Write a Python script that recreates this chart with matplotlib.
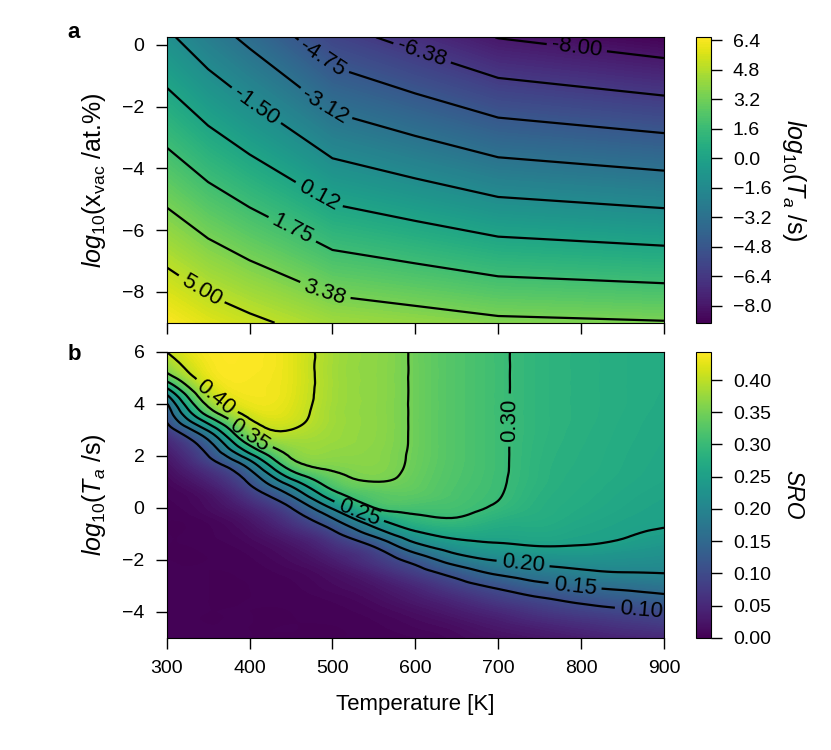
import numpy as np
import matplotlib.pyplot as plt
from matplotlib import cm, colors
from matplotlib.tri import Triangulation, UniformTriRefiner, CubicTriInterpolator

plt.rcParams['font.family'] = ['Liberation Sans', 'DejaVu Sans']
plt.rcParams['mathtext.fontset'] = 'custom'
plt.rcParams['mathtext.rm'] = 'Liberation Sans'
plt.rcParams['mathtext.it'] = 'Liberation Sans:italic'
plt.rcParams['mathtext.bf'] = 'Liberation Sans:bold'

# panel a: log10(Ta/s) on (T, log10 x_vac)
temps_a = [300, 350, 400, 500, 600, 700, 800, 900]
log_xvac = [-9.0, 0.25]
log_ta = [
    [6.50, 5.80, 5.29, 4.33, 4.02, 3.65, 3.56, 3.46],          # log x_vac = -9
    [-1.24, -2.42, -3.47, -5.79, -6.90, -8.04, -8.46, -8.90],  # log x_vac = 0.25
]
levels_a = [-8.0, -6.375, -4.75, -3.125, -1.5, 0.125, 1.75, 3.375, 5.0]
ticks_a = [-8.0, -6.4, -4.8, -3.2, -1.6, 0.0, 1.6, 3.2, 4.8, 6.4]
labels_a = [(795, -0.05), (608, -0.27), (485, -0.54), (489, -2.05), (407, -2.0),
            (485, -4.81), (451, -6.0), (491, -8.0), (340, -8.0)]

# panel b: SRO on (T, log10 Ta); one profile per temperature, log Ta = -5 ... 6 step 0.5
temps_b = [300, 350, 400, 450, 500, 550, 600, 650, 700, 750, 800, 850, 900]
log_ta_b = [-5.0, -4.5, -4.0, -3.5, -3.0, -2.5, -2.0, -1.5, -1.0, -0.5, 0.0, 0.5,
            1.0, 1.5, 2.0, 2.5, 3.0, 3.5, 4.0, 4.5, 5.0, 5.5, 6.0]
sro_profiles = [
    [0, 0, 0, 0, 0, 0, 0, 0, 0, 0, 0.002, 0.004, 0.008, 0.016, 0.028, 0.046, 0.078, 0.113, 0.147, 0.229, 0.325, 0.373, 0.401],
    [0, 0, 0, 0, 0, 0, 0, 0.001, 0.003, 0.005, 0.013, 0.02, 0.039, 0.064, 0.10, 0.138, 0.208, 0.298, 0.362, 0.40, 0.425, 0.435, 0.44],
    [0, 0, 0, 0, 0, 0.001, 0.003, 0.007, 0.014, 0.024, 0.043, 0.071, 0.107, 0.153, 0.232, 0.316, 0.369, 0.405, 0.43, 0.437, 0.44, 0.442, 0.443],
    [0, 0, 0, 0.001, 0.003, 0.006, 0.013, 0.022, 0.041, 0.067, 0.10, 0.155, 0.23, 0.31, 0.355, 0.377, 0.40, 0.415, 0.421, 0.424, 0.425, 0.425, 0.425],
    [0, 0, 0.002, 0.005, 0.011, 0.018, 0.034, 0.055, 0.087, 0.138, 0.207, 0.28, 0.326, 0.354, 0.368, 0.375, 0.379, 0.381, 0.382, 0.383, 0.383, 0.383, 0.383],
    [0.001, 0.003, 0.007, 0.014, 0.024, 0.043, 0.069, 0.10, 0.166, 0.233, 0.30, 0.325, 0.35, 0.362, 0.365, 0.367, 0.368, 0.368, 0.368, 0.368, 0.368, 0.368, 0.368],
    [0.004, 0.009, 0.017, 0.031, 0.049, 0.079, 0.119, 0.181, 0.239, 0.286, 0.312, 0.33, 0.338, 0.342, 0.344, 0.345, 0.345, 0.345, 0.345, 0.345, 0.345, 0.345, 0.345],
    [0.01, 0.017, 0.032, 0.052, 0.081, 0.12, 0.176, 0.226, 0.265, 0.295, 0.31, 0.316, 0.319, 0.321, 0.322, 0.322, 0.322, 0.322, 0.322, 0.322, 0.322, 0.322, 0.322],
    [0.017, 0.03, 0.049, 0.077, 0.11, 0.159, 0.204, 0.242, 0.263, 0.279, 0.295, 0.302, 0.304, 0.305, 0.305, 0.305, 0.305, 0.305, 0.305, 0.305, 0.305, 0.305, 0.305],
    [0.025, 0.043, 0.068, 0.096, 0.137, 0.179, 0.216, 0.249, 0.265, 0.274, 0.279, 0.282, 0.285, 0.286, 0.287, 0.288, 0.289, 0.289, 0.289, 0.289, 0.289, 0.289, 0.289],
    [0.035, 0.055, 0.082, 0.113, 0.154, 0.192, 0.222, 0.248, 0.259, 0.265, 0.27, 0.273, 0.275, 0.277, 0.278, 0.279, 0.28, 0.281, 0.281, 0.281, 0.281, 0.281, 0.281],
    [0.043, 0.066, 0.092, 0.126, 0.163, 0.199, 0.22, 0.241, 0.253, 0.258, 0.262, 0.265, 0.268, 0.27, 0.271, 0.272, 0.273, 0.274, 0.275, 0.275, 0.275, 0.275, 0.275],
    [0.05, 0.075, 0.10, 0.137, 0.171, 0.201, 0.216, 0.231, 0.246, 0.253, 0.256, 0.259, 0.262, 0.264, 0.265, 0.266, 0.267, 0.268, 0.269, 0.27, 0.27, 0.27, 0.27],
]
levels_b = [0.10, 0.15, 0.20, 0.25, 0.30, 0.35, 0.40]
ticks_b = [0.0, 0.05, 0.10, 0.15, 0.20, 0.25, 0.30, 0.35, 0.40]
labels_b = [(360, 4.27), (398, 2.73), (714, 3.37), (531, -0.24), (730, -2.14), (793, -2.91), (873, -3.87)]

fig = plt.figure(figsize=(8.31, 7.5), dpi=100)
ax1 = fig.add_axes([0.2006, 0.5697, 0.5984, 0.3806])
cax1 = fig.add_axes([0.8372, 0.5697, 0.018, 0.3806])
ax2 = fig.add_axes([0.2006, 0.1497, 0.5984, 0.3814])
cax2 = fig.add_axes([0.8372, 0.1497, 0.018, 0.3814])

# panel a
cf1 = ax1.contourf(temps_a, log_xvac, log_ta, levels=np.linspace(-8.92, 6.55, 121), cmap='viridis')
cs1 = ax1.contour(temps_a, log_xvac, log_ta, levels=levels_a, colors='k',
                  linewidths=1.6, linestyles='solid')
ax1.clabel(cs1, fmt='%.2f', fontsize=16, manual=labels_a)
ax1.set_xlim(300, 900)
ax1.set_ylim(-9, 0.25)
ax1.set_xticks([300, 400, 500, 600, 700, 800, 900])
ax1.set_xticklabels([])
ax1.set_yticks([0, -2, -4, -6, -8])
ax1.set_ylabel(r'$log_{10}$(x$_{\mathrm{vac}}$ /at.%)', fontsize=18, labelpad=10)
cb1 = fig.colorbar(cf1, cax=cax1, ticks=ticks_a)
cb1.set_label(r'$log_{10}(T_a$ /s)', rotation=270, fontsize=18, labelpad=26)

# panel b: grid in index units, smoothed by matplotlib's cubic tri refiner
sro = np.array(sro_profiles).T
gu, gv = np.meshgrid(np.arange(len(temps_b)), np.arange(len(log_ta_b)))
tri_idx = Triangulation(gu.ravel(), gv.ravel())
interp = CubicTriInterpolator(tri_idx, sro.ravel(), kind='min_E')
tri_fine, sro_fine = UniformTriRefiner(tri_idx).refine_field(sro.ravel(), triinterpolator=interp, subdiv=3)
t_fine = np.interp(tri_fine.x, np.arange(len(temps_b)), temps_b)
y_fine = np.interp(tri_fine.y, np.arange(len(log_ta_b)), log_ta_b)
tri_b = Triangulation(t_fine, y_fine, tri_fine.triangles)

ax2.tricontourf(tri_b, sro_fine, levels=np.linspace(0, 0.444, 111), cmap='viridis', extend='both')
cs2 = ax2.tricontour(tri_b, sro_fine, levels=levels_b, colors='k', linewidths=1.6)
ax2.clabel(cs2, fmt='%.2f', fontsize=16, manual=labels_b)
ax2.set_xlim(300, 900)
ax2.set_ylim(-5, 6)
ax2.set_xticks([300, 400, 500, 600, 700, 800, 900])
ax2.set_yticks([6, 4, 2, 0, -2, -4])
ax2.set_xlabel('Temperature [K]', fontsize=16, labelpad=12)
ax2.set_ylabel(r'$log_{10}(T_a$ /s)', fontsize=18, labelpad=10)
sm = cm.ScalarMappable(norm=colors.Normalize(0, 0.444), cmap='viridis')
cb2 = fig.colorbar(sm, cax=cax2, ticks=ticks_b)
cb2.set_label('SRO', rotation=270, fontsize=16.5, style='italic', labelpad=24)

for ax in (ax1, ax2, cax1, cax2):
    ax.tick_params(labelsize=14, length=8, width=1, pad=8)

fig.text(0.081, 0.949, 'a', fontsize=16, fontweight='bold')
fig.text(0.081, 0.52, 'b', fontsize=16, fontweight='bold')

fig.savefig('out.png', dpi=100)
